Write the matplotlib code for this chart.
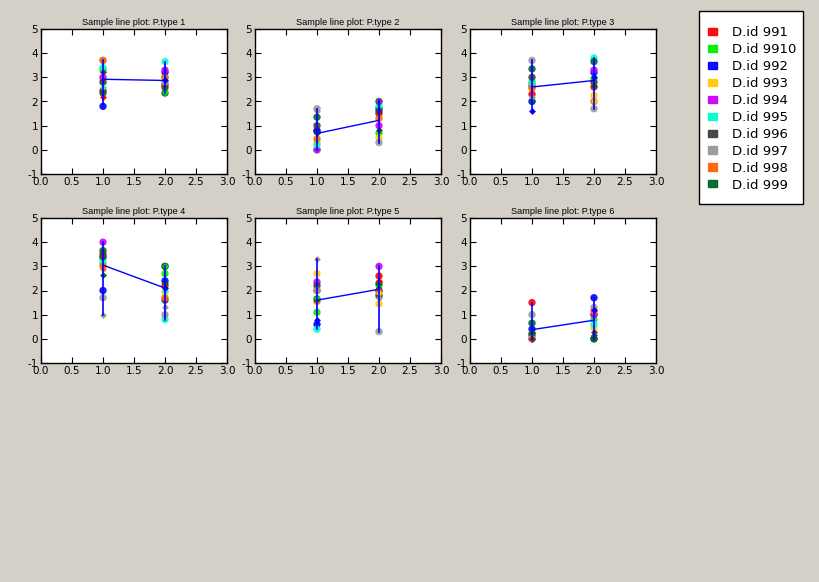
import numpy as np
import matplotlib
matplotlib.use("Agg")
import matplotlib.pyplot as plt
from matplotlib.patches import Patch, Rectangle

plt.rcParams["axes.unicode_minus"] = False

ids = ["991", "9910", "992", "993", "994", "995", "996", "997", "998", "999"]
colors = ["#ff0000", "#00ee00", "#0000ff", "#ffcc00", "#cc00ff",
          "#00ffcc", "#404040", "#999999", "#ff6600", "#006622"]

# main value of each D.id at x=1 and x=2, one list per panel
p1_x1 = [2.45, 3.3, 1.8, 2.9, 3.0, 3.4, 2.8, 3.7, 3.7, 2.35]
p1_x2 = [2.7, 3.0, 3.2, 2.5, 3.3, 3.65, 2.6, 2.8, 3.0, 2.35]
p2_x1 = [0.75, 0.0, 0.8, 0.3, 0.0, 0.2, 1.0, 1.7, 0.45, 1.35]
p2_x2 = [1.5, 0.7, 1.7, 0.5, 1.0, 1.8, 1.6, 0.3, 1.3, 2.0]
p3_x1 = [2.3, 2.8, 2.0, 2.6, 2.65, 2.75, 3.0, 3.7, 2.55, 3.35]
p3_x2 = [2.6, 2.95, 3.2, 2.25, 3.3, 3.8, 2.8, 1.7, 2.0, 3.65]
p4_x1 = [3.5, 3.35, 2.0, 3.1, 4.0, 3.2, 3.4, 1.7, 3.0, 3.65]
p4_x2 = [2.2, 2.7, 2.4, 1.95, 3.0, 0.8, 1.6, 1.0, 1.7, 3.0]
p5_x1 = [2.0, 1.1, 0.6, 2.7, 2.35, 0.4, 2.2, 2.0, 1.55, 1.65]
p5_x2 = [2.6, 2.2, 2.0, 1.45, 3.0, 1.75, 1.8, 0.3, 1.95, 2.3]
p6_x1 = [1.5, 0.15, 0.4, 0.2, 0.0, 0.15, 0.2, 1.0, 0.0, 0.65]
p6_x2 = [1.0, 0.8, 1.7, 0.45, 1.0, 0.6, 0.0, 1.3, 1.15, 0.0]

# extra small points: (x, id index, value)
p1_extra = [(1, 0, 2.2), (1, 5, 2.6), (1, 6, 3.2), (2, 1, 2.4), (2, 2, 2.9)]
p2_extra = [(1, 9, 0.7), (1, 7, 1.6), (2, 4, 2.0), (2, 6, 0.8)]
p3_extra = [(1, 2, 1.6), (1, 9, 2.0), (1, 7, 2.2), (2, 3, 2.0), (2, 2, 3.0), (2, 9, 2.65)]
p4_extra = [(1, 7, 1.0), (1, 9, 2.65), (1, 8, 2.9), (2, 5, 2.0), (2, 1, 3.0),
            (2, 9, 2.3), (2, 7, 1.3), (2, 2, 2.1)]
p5_extra = [(1, 7, 3.3), (1, 2, 0.8), (1, 1, 1.7), (2, 0, 2.4), (2, 7, 1.7), (2, 3, 1.9)]
p6_extra = [(1, 9, 0.3), (1, 6, 0.0), (2, 2, 1.2), (2, 6, 0.3), (2, 6, 0.15)]

# mean line per panel
means = [(2.92, 2.87), (0.68, 1.22), (2.6, 2.87), (3.05, 2.1), (1.6, 2.05), (0.38, 0.77)]

panels = [(p1_x1, p1_x2, p1_extra), (p2_x1, p2_x2, p2_extra), (p3_x1, p3_x2, p3_extra),
          (p4_x1, p4_x2, p4_extra), (p5_x1, p5_x2, p5_extra), (p6_x1, p6_x2, p6_extra)]

bg = "#d4d0c8"
fig = plt.figure(figsize=(8.2, 5.82), dpi=100, facecolor=bg)

W, H = 820.0, 582.0
lefts = [41, 255, 470]
tops = [29, 218]
aw, ah = 186, 145

for k, (v1, v2, extra) in enumerate(panels):
    r, c = divmod(k, 3)
    ax = fig.add_axes([lefts[c] / W, 1 - (tops[r] + ah) / H, aw / W, ah / H])
    allv = {1: list(v1), 2: list(v2)}
    for e in extra:
        allv[e[0]].append(e[2])
    for x, vals in ((1, v1), (2, v2)):
        ax.scatter([x] * len(vals), vals, c=colors, s=28, linewidths=0, alpha=0.9, zorder=2)
    for x, i, v in extra:
        ax.scatter([x], [v], c=[colors[i]], s=12, marker="D", linewidths=0, zorder=2)
    for x in (1, 2):
        ax.plot([x, x], [min(allv[x]), max(allv[x])], color="blue", lw=1.2, zorder=3)
    ax.plot([1, 2], means[k], color="blue", lw=1, zorder=3)
    ax.set_xlim(0, 3)
    ax.set_ylim(-1, 5)
    ax.set_xticks(np.arange(0, 3.01, 0.5))
    ax.set_yticks(range(-1, 6))
    ax.set_xticklabels(["%.1f" % t for t in np.arange(0, 3.01, 0.5)])
    ax.tick_params(direction="in", top=True, right=True, labelsize=7.5, length=4, pad=2)
    for s in ax.spines.values():
        s.set_linewidth(1)
    ax.set_title("Sample line plot: P.type %d" % (k + 1), fontsize=6.6,
                 family="Liberation Sans", pad=3)

# legend box
fig.patches.append(Rectangle((699 / W, 1 - 204 / H), 104 / W, 193 / H,
                             transform=fig.transFigure, facecolor="white",
                             edgecolor="black", lw=1, zorder=1))
handles = [Patch(facecolor=col, edgecolor=col, alpha=0.95) for col in colors]
leg = fig.legend(handles, ["D.id " + i for i in ids], loc="upper left",
                 bbox_to_anchor=(708 / W, 1 - 26 / H), fontsize=9.5,
                 frameon=False, handlelength=0.68, handleheight=0.45,
                 labelspacing=0.3, borderpad=0, handletextpad=1.14,
                 borderaxespad=0)
leg.set_zorder(2)

fig.savefig("out.png", dpi=100, facecolor=bg)
